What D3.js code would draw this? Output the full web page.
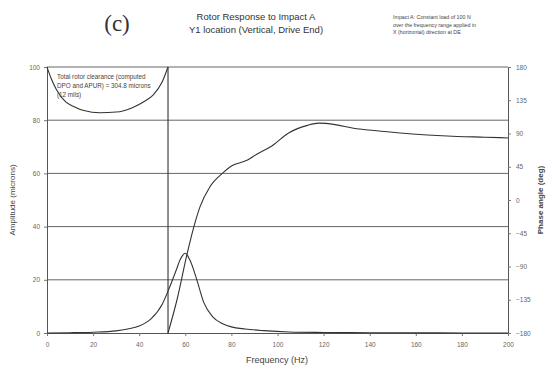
<!DOCTYPE html>
<html>
<head>
<meta charset="utf-8">
<script src="https://cdn.jsdelivr.net/npm/d3@7"></script>
<style>
  body { margin: 0; background: #fff; }
  svg { display: block; }
</style>
</head>
<body>
<script>
// amplitude response (microns) vs frequency (Hz)
const ampFreq = [0, 10, 20, 30, 35, 40, 45, 50, 53, 56, 58, 60, 62, 65, 68, 72, 76, 80, 86, 94, 105, 120, 140, 160, 180, 200]
const ampValues = [0, 0.1, 0.3, 0.8, 1.5, 2.6, 5.2, 10.8, 16.8, 23.5, 28, 30, 27.4, 20, 11.5, 6, 3.6, 2.3, 1.5, 0.9, 0.4, 0.2, 0.1, 0.05, 0.02, 0]

// phase angle (deg), wraps from +180 to -180 at 52.5 Hz
const phaseFreqA = [0, 2, 4, 8, 12, 16, 23, 30, 37, 42, 46, 50, 52.5]
const phaseValuesA = [180, 163, 150, 133, 126, 121, 118, 119, 125, 133, 142, 160, 180]
const phaseFreqB = [52.5, 56.4, 60.7, 63.3, 66.4, 70.7, 76.4, 80, 87, 91, 97, 105, 113, 118, 125, 133, 142, 152, 165, 178, 190, 200]
const phaseValuesB = [-180, -135, -74, -41, -9, 18, 37, 46, 54, 62, 72, 91, 101, 104, 102, 97, 94, 91, 88, 86, 85, 84]

const freqTicks = [0, 20, 40, 60, 80, 100, 120, 140, 160, 180, 200]
const ampTicks = [0, 20, 40, 60, 80, 100]
const phaseTicks = [-180, -135, -90, -45, 0, 45, 90, 135, 180]

const titleLines = ['Rotor Response to Impact A', 'Y1 location (Vertical, Drive End)']
const noteLines = ['Impact A: Constant load of 100 N', 'over the frequency range applied in', 'X (horizontal) direction at DE']
const clearanceLines = ['Total rotor clearance (computed', 'DPO and APUR) = 304.8 microns', '(12 mils)']

const width = 552
const height = 378
const plotLeft = 47, plotRight = 508, plotTop = 67, plotBottom = 333

const svg = d3.select('body').append('svg').attr('width', width).attr('height', height)
  .style('font-family', 'Arial, "Liberation Sans", sans-serif')

const x = d3.scaleLinear().domain([0, 200]).range([plotLeft, plotRight])
const yAmp = d3.scaleLinear().domain([0, 100]).range([plotBottom, plotTop])
const yPhase = d3.scaleLinear().domain([-180, 180]).range([plotBottom, plotTop])

// grid lines
svg.append('g')
  .selectAll('line')
  .data(ampTicks.slice(1))
  .enter()
  .append('line')
  .attr('x1', plotLeft).attr('x2', plotRight)
  .attr('y1', (d) => yAmp(d)).attr('y2', (d) => yAmp(d))
  .attr('stroke', '#666')
  .attr('stroke-width', 1)

// axes
const axisLeft = svg.append('g').attr('transform', `translate(${plotLeft},0)`)
  .call(d3.axisLeft(yAmp).tickValues(ampTicks).tickSize(3).tickPadding(4))
const axisRight = svg.append('g').attr('transform', `translate(${plotRight},0)`)
  .call(d3.axisRight(yPhase).tickValues(phaseTicks).tickSize(3).tickPadding(5))
const axisBottom = svg.append('g').attr('transform', `translate(0,${plotBottom})`)
  .call(d3.axisBottom(x).tickValues(freqTicks).tickSize(3).tickPadding(6))

for (const a of [axisLeft, axisRight, axisBottom]) {
  a.select('.domain').attr('stroke', '#555')
  a.selectAll('.tick line').attr('stroke', '#777')
  a.selectAll('.tick text').attr('fill', '#666').style('font-size', '6.5px')
    .style('font-family', 'Arial, "Liberation Sans", sans-serif')
}

// curves
const ampLine = d3.line()
  .x((d, i) => x(ampFreq[i]))
  .y((d) => yAmp(d))
  .curve(d3.curveMonotoneX)

svg.append('path')
  .attr('d', ampLine(ampValues))
  .attr('fill', 'none')
  .attr('stroke', '#333')
  .attr('stroke-width', 1.1)

const phaseLine = (freqs) => d3.line()
  .x((d, i) => x(freqs[i]))
  .y((d) => yPhase(d))
  .curve(d3.curveMonotoneX)

svg.append('path')
  .attr('d', phaseLine(phaseFreqA)(phaseValuesA))
  .attr('fill', 'none')
  .attr('stroke', '#333')
  .attr('stroke-width', 1.1)

svg.append('path')
  .attr('d', phaseLine(phaseFreqB)(phaseValuesB))
  .attr('fill', 'none')
  .attr('stroke', '#333')
  .attr('stroke-width', 1.1)

// wrap connector from +180 to -180
svg.append('line')
  .attr('x1', x(phaseFreqA[phaseFreqA.length - 1]))
  .attr('x2', x(phaseFreqB[0]))
  .attr('y1', yPhase(phaseValuesA[phaseValuesA.length - 1]))
  .attr('y2', yPhase(phaseValuesB[0]))
  .attr('stroke', '#333')
  .attr('stroke-width', 1.1)

// titles
svg.append('text')
  .attr('x', 117).attr('y', 31)
  .attr('text-anchor', 'middle')
  .style('font-family', '"Liberation Serif", "DejaVu Serif", serif')
  .style('font-size', '23px')
  .attr('fill', '#333')
  .text('(c)')

svg.append('g')
  .selectAll('text')
  .data(titleLines)
  .enter()
  .append('text')
  .attr('x', 256)
  .attr('y', (d, i) => 20 + i * 13)
  .attr('text-anchor', 'middle')
  .style('font-size', '9.5px')
  .attr('fill', '#333')
  .text((d) => d)

svg.append('g')
  .selectAll('text')
  .data(noteLines)
  .enter()
  .append('text')
  .attr('x', 393)
  .attr('y', (d, i) => 19 + i * 7.5)
  .style('font-size', '5.3px')
  .attr('fill', '#444')
  .text((d) => d)

svg.append('g')
  .selectAll('text')
  .data(clearanceLines)
  .enter()
  .append('text')
  .attr('x', 57)
  .attr('y', (d, i) => 79 + i * 9)
  .style('font-size', '6.3px')
  .attr('fill', '#444')
  .text((d) => d)

// axis titles
svg.append('text')
  .attr('transform', `translate(15,${(plotTop + plotBottom) / 2}) rotate(-90)`)
  .attr('text-anchor', 'middle')
  .style('font-size', '8px')
  .attr('fill', '#444')
  .text('Amplitude (microns)')

svg.append('text')
  .attr('transform', `translate(543,${(plotTop + plotBottom) / 2}) rotate(-90)`)
  .attr('text-anchor', 'middle')
  .style('font-size', '8px')
  .style('font-weight', 'bold')
  .attr('fill', '#444')
  .text('Phase angle (deg)')

svg.append('text')
  .attr('x', 277).attr('y', 363)
  .attr('text-anchor', 'middle')
  .style('font-size', '9px')
  .attr('fill', '#444')
  .text('Frequency (Hz)')
</script>
</body>
</html>
